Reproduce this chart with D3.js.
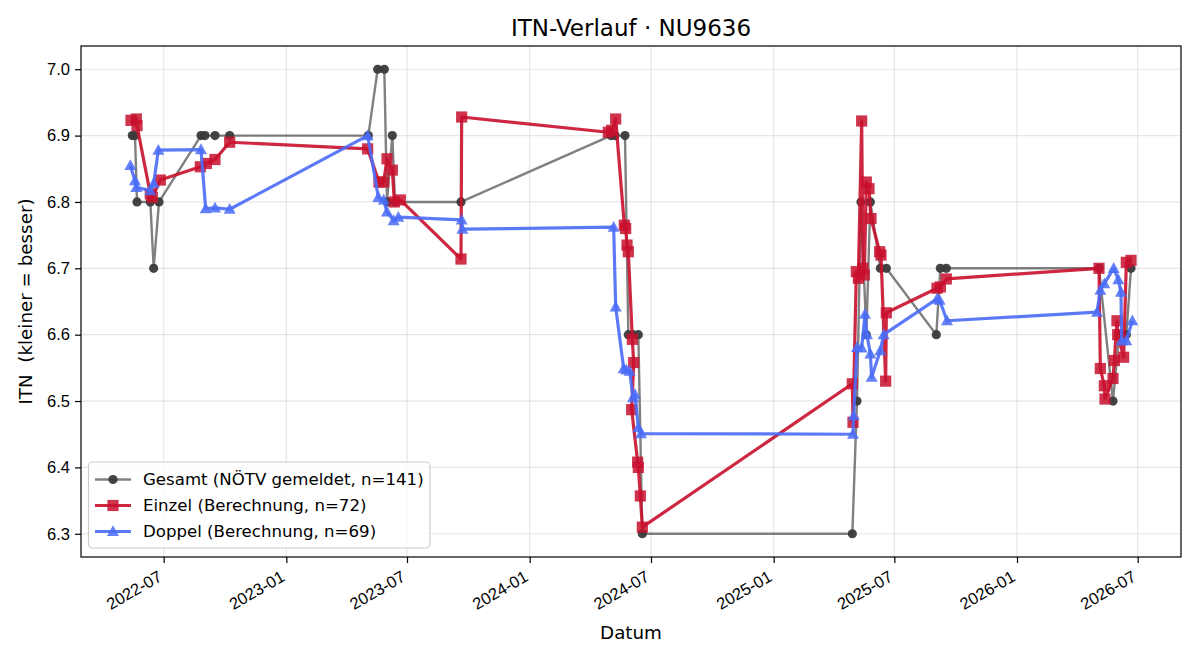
<!DOCTYPE html>
<html>
<head>
<meta charset="utf-8">
<style>
    body { margin: 0; background: #fff; }
    svg { font-family: "DejaVu Sans", sans-serif; }
</style>
</head>
<body>
<script src="https://d3js.org/d3.v7.min.js"></script>
<div id="chart"></div>
<script>
    // Gesamt (NÖTV gemeldet)
    const gesamtDates = ["2022-05-15", "2022-05-19", "2022-05-22", "2022-06-11", "2022-06-16", "2022-06-24",
        "2022-08-26", "2022-09-01", "2022-09-16", "2022-10-08", "2023-05-04", "2023-05-18", "2023-05-28",
        "2023-06-01", "2023-06-09", "2023-06-13", "2023-09-20", "2024-05-02", "2024-05-08", "2024-05-23",
        "2024-05-28", "2024-06-04", "2024-06-12", "2024-06-18", "2025-04-29", "2025-05-06", "2025-05-12",
        "2025-05-20", "2025-05-26", "2025-06-10", "2025-06-19", "2025-09-02", "2025-09-08", "2025-09-17",
        "2026-05-04", "2026-05-25", "2026-06-03", "2026-06-14", "2026-06-21"]
    const gesamtValues = [6.9, 6.9, 6.8, 6.8, 6.7, 6.8,
        6.9, 6.9, 6.9, 6.9, 6.9, 7.0, 7.0,
        6.8, 6.9, 6.8, 6.8, 6.9, 6.9, 6.9,
        6.6, 6.6, 6.6, 6.3, 6.3, 6.5, 6.8,
        6.6, 6.8, 6.7, 6.7, 6.6, 6.7, 6.7,
        6.7, 6.5, 6.6, 6.6, 6.7]

    // Einzel (Berechnung)
    const einzelDates = ["2022-05-13", "2022-05-21", "2022-05-22", "2022-06-11", "2022-06-14", "2022-06-26",
        "2022-08-25", "2022-09-03", "2022-09-16", "2022-10-08", "2023-05-03", "2023-05-20", "2023-05-27",
        "2023-06-01", "2023-06-09", "2023-06-12", "2023-06-21", "2023-09-20", "2023-09-21", "2024-04-28",
        "2024-05-03", "2024-05-09", "2024-05-22", "2024-05-24", "2024-05-26", "2024-05-28", "2024-06-03",
        "2024-06-05", "2024-06-02", "2024-06-11", "2024-06-12", "2024-06-15", "2024-06-18", "2025-04-29",
        "2025-04-30", "2025-05-05", "2025-05-08", "2025-05-13", "2025-05-15", "2025-05-17", "2025-05-20",
        "2025-05-24", "2025-05-27", "2025-06-09", "2025-06-11", "2025-06-18", "2025-06-19", "2025-09-03",
        "2025-09-08", "2025-09-17", "2026-05-04", "2026-05-06", "2026-05-12", "2026-05-13", "2026-05-25",
        "2026-05-27", "2026-05-31", "2026-06-01", "2026-06-10", "2026-06-14", "2026-06-21"]
    const einzelValues = [6.923, 6.925, 6.915, 6.812, 6.807, 6.833,
        6.853, 6.858, 6.864, 6.89, 6.88, 6.83, 6.83,
        6.865, 6.848, 6.80, 6.803, 6.714, 6.928, 6.905,
        6.908, 6.925, 6.765, 6.76, 6.735, 6.725, 6.593,
        6.558, 6.487, 6.408, 6.40, 6.357, 6.31, 6.526,
        6.468, 6.695, 6.685, 6.922, 6.70, 6.69, 6.83,
        6.82, 6.775, 6.725, 6.72, 6.53, 6.633, 6.67,
        6.672, 6.684, 6.70, 6.549, 6.523, 6.503, 6.534,
        6.561, 6.621, 6.60, 6.566, 6.709, 6.712]

    // Doppel (Berechnung)
    const doppelDates = ["2022-05-12", "2022-05-19", "2022-05-21", "2022-06-11", "2022-06-16", "2022-06-23",
        "2022-08-26", "2022-09-02", "2022-09-16", "2022-10-08", "2023-05-03", "2023-05-19", "2023-05-27",
        "2023-06-01", "2023-06-11", "2023-06-18", "2023-09-21", "2023-09-22", "2024-05-06", "2024-05-09",
        "2024-05-21", "2024-05-25", "2024-05-30", "2024-06-04", "2024-06-07", "2024-06-12", "2024-06-16",
        "2025-04-30", "2025-05-01", "2025-05-06", "2025-05-13", "2025-05-18", "2025-05-21", "2025-05-26",
        "2025-05-28", "2025-06-10", "2025-06-15", "2025-09-03", "2025-09-07", "2025-09-18", "2026-05-01",
        "2026-05-06", "2026-05-12", "2026-05-26", "2026-06-02", "2026-06-06", "2026-06-07", "2026-06-14",
        "2026-06-23"]
    const doppelValues = [6.855, 6.832, 6.822, 6.817, 6.828, 6.878,
        6.879, 6.79, 6.791, 6.789, 6.90, 6.807, 6.803,
        6.785, 6.772, 6.777, 6.773, 6.759, 6.762, 6.642,
        6.549, 6.547, 6.545, 6.505, 6.51, 6.46, 6.451,
        6.45, 6.478, 6.581, 6.58, 6.631, 6.60, 6.571,
        6.536, 6.576, 6.60, 6.654, 6.652, 6.621, 6.634,
        6.667, 6.677, 6.70, 6.683, 6.664, 6.591, 6.591,
        6.621]

    const xTickDates = ["2022-07-01", "2023-01-01", "2023-07-01", "2024-01-01", "2024-07-01",
        "2025-01-01", "2025-07-01", "2026-01-01", "2026-07-01"]
    const yTickValues = [6.3, 6.4, 6.5, 6.6, 6.7, 6.8, 6.9, 7.0]
    const legendLabels = ["Gesamt (NÖTV gemeldet, n=141)", "Einzel (Berechnung, n=72)", "Doppel (Berechnung, n=69)"]

    const width = 1200
    const height = 660
    const plotLeft = 81, plotRight = 1181, plotTop = 46, plotBottom = 557

    const parse = d3.timeParse("%Y-%m-%d")

    const xScale = d3.scaleTime()
        .domain([parse("2022-02-27"), parse("2026-09-04")])
        .range([plotLeft, plotRight])
    const yScale = d3.scaleLinear()
        .domain([6.265, 7.035])
        .range([plotBottom, plotTop])

    const svg = d3.select("#chart").append("svg")
        .attr("width", width).attr("height", height)

    // grid
    const grid = svg.append("g").attr("stroke", "#b0b0b0").attr("stroke-opacity", 0.3).attr("stroke-width", 1.2)
    grid.selectAll(".gx").data(xTickDates).enter().append("line")
        .attr("x1", d => xScale(parse(d))).attr("x2", d => xScale(parse(d)))
        .attr("y1", plotTop).attr("y2", plotBottom)
    grid.selectAll(".gy").data(yTickValues).enter().append("line")
        .attr("x1", plotLeft).attr("x2", plotRight)
        .attr("y1", d => yScale(d)).attr("y2", d => yScale(d))

    // axes
    const xAxis = d3.axisBottom(xScale)
        .tickValues(xTickDates.map(parse))
        .tickFormat(d3.timeFormat("%Y-%m"))
        .tickSize(6).tickSizeOuter(0)
    const yAxis = d3.axisLeft(yScale)
        .tickValues(yTickValues)
        .tickFormat(d3.format(".1f"))
        .tickSize(6).tickSizeOuter(0)

    const gx = svg.append("g")
        .attr("transform", "translate(0," + plotBottom + ")")
        .call(xAxis)
    gx.select(".domain").remove()
    gx.selectAll("line").attr("stroke", "#000").attr("stroke-width", 1.2)
    gx.selectAll("text")
        .attr("font-size", 16.5).attr("fill", "#000")
        .attr("text-anchor", "end")
        .attr("x", 0).attr("y", 0).attr("dy", 0)
        .attr("transform", "translate(-1,23) rotate(-30)")

    const gy = svg.append("g")
        .attr("transform", "translate(" + plotLeft + ",0)")
        .call(yAxis)
    gy.select(".domain").remove()
    gy.selectAll("line").attr("stroke", "#000").attr("stroke-width", 1.2)
    gy.selectAll("text").attr("font-size", 16.5).attr("fill", "#000").attr("x", -11)

    // frame
    svg.append("rect")
        .attr("x", plotLeft).attr("y", plotTop)
        .attr("width", plotRight - plotLeft).attr("height", plotBottom - plotTop)
        .attr("fill", "none").attr("stroke", "#000").attr("stroke-width", 1.2)

    const series = [
        { dates: gesamtDates, values: gesamtValues, color: "#555555", marker: "circle", lw: 2.4, lineOpacity: 0.75, markFill: "#3a3a3a", markOpacity: 0.95 },
        { dates: einzelDates, values: einzelValues, color: "#c8102e", marker: "square", lw: 3.2, lineOpacity: 0.9, markFill: "#c8102e", markOpacity: 0.85 },
        { dates: doppelDates, values: doppelValues, color: "#4a6cf7", marker: "triangle", lw: 3.2, lineOpacity: 0.9, markFill: "#4a6cf7", markOpacity: 0.85 }
    ]

    const markerPath = (type) => {
        if (type === "circle") return "M4.6,0A4.6,4.6 0 1,1 -4.6,0A4.6,4.6 0 1,1 4.6,0Z"
        if (type === "square") return "M-5.6,-5.6H5.6V5.6H-5.6Z"
        return "M0,-6.2L6,4.6L-6,4.6Z"
    }

    const line = d3.line().x(d => xScale(d[0])).y(d => yScale(d[1]))

    series.forEach(s => {
        const pts = s.dates.map((d, i) => [parse(d), s.values[i]])
        svg.append("path")
            .datum(pts)
            .attr("d", line)
            .attr("fill", "none")
            .attr("stroke", s.color)
            .attr("stroke-opacity", s.lineOpacity)
            .attr("stroke-width", s.lw)
            .attr("stroke-linejoin", "round")
        svg.append("g").selectAll("path")
            .data(pts)
            .enter()
            .append("path")
            .attr("d", markerPath(s.marker))
            .attr("transform", d => "translate(" + xScale(d[0]) + "," + yScale(d[1]) + ")")
            .attr("fill", s.markFill)
            .attr("fill-opacity", s.markOpacity)
    })

    // legend
    const legend = svg.append("g")
    legend.append("rect")
        .attr("x", 88.5).attr("y", 462).attr("width", 341.5).attr("height", 86)
        .attr("rx", 4).attr("fill", "#fff").attr("fill-opacity", 0.8)
        .attr("stroke", "#cccccc").attr("stroke-width", 1.2)
    const rowY = [479.5, 505.5, 531.5]
    legendLabels.forEach((label, i) => {
        const s = series[i]
        legend.append("line")
            .attr("x1", 95).attr("x2", 131).attr("y1", rowY[i]).attr("y2", rowY[i])
            .attr("stroke", s.color).attr("stroke-opacity", s.lineOpacity).attr("stroke-width", s.lw)
        legend.append("path")
            .attr("d", markerPath(s.marker))
            .attr("transform", "translate(113," + rowY[i] + ")")
            .attr("fill", s.markFill).attr("fill-opacity", s.markOpacity)
        legend.append("text")
            .attr("x", 143).attr("y", rowY[i])
            .attr("dy", "0.36em")
            .attr("font-size", 16.6)
            .text(label)
    })

    // titles
    svg.append("text")
        .attr("x", (plotLeft + plotRight) / 2).attr("y", 36)
        .attr("text-anchor", "middle").attr("font-size", 23)
        .text("ITN-Verlauf · NU9636")
    svg.append("text")
        .attr("x", (plotLeft + plotRight) / 2).attr("y", 639)
        .attr("text-anchor", "middle").attr("font-size", 18.3)
        .text("Datum")
    svg.append("text")
        .attr("transform", "translate(32," + ((plotTop + plotBottom) / 2) + ") rotate(-90)")
        .attr("text-anchor", "middle").attr("font-size", 18.3)
        .style("white-space", "pre")
        .text("ITN  (kleiner = besser)")
</script>
</body>
</html>
